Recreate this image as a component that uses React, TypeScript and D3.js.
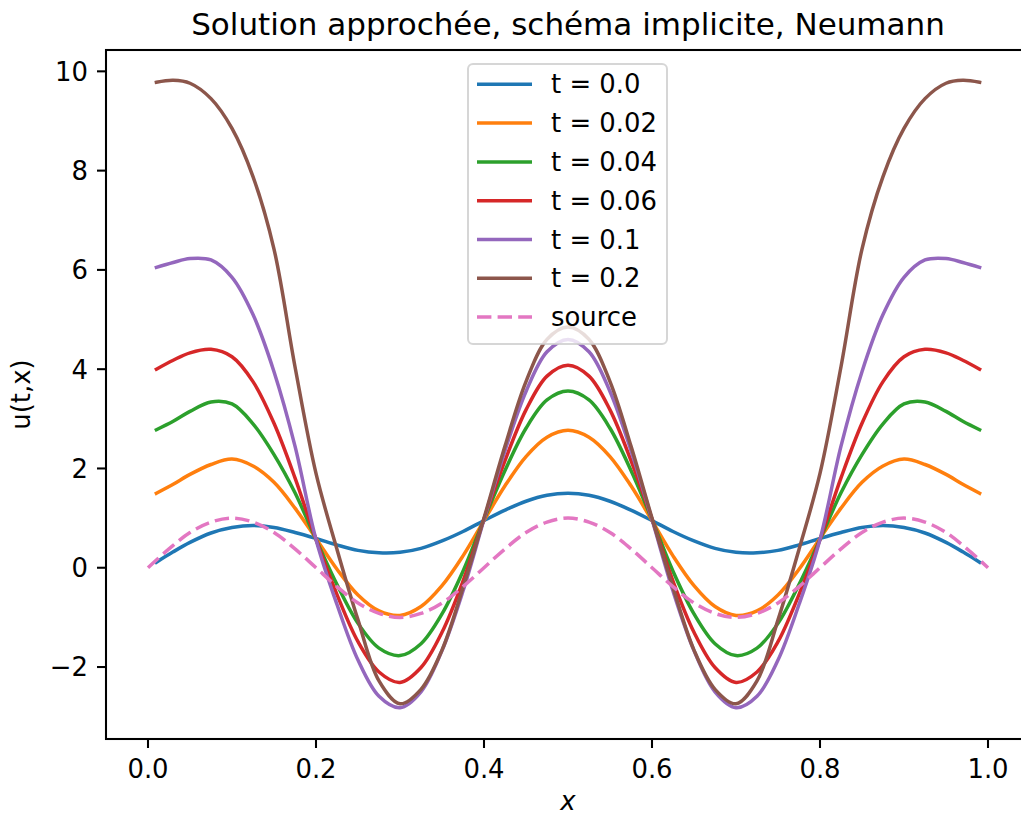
import React from "react";
import * as d3 from "d3";

// ---- data ----
const xs = [0.01,0.03,0.05,0.075,0.1,0.125,0.15,0.175,0.2,0.225,0.25,0.275,0.3,0.325,0.35,0.375,0.4,0.425,0.45,0.475,0.5,0.525,0.55,0.575,0.6,0.625,0.65,0.675,0.7,0.725,0.75,0.775,0.8,0.825,0.85,0.875,0.9,0.925,0.95,0.97,0.99];

const u_t000 = [0.11,0.32,0.51,0.70,0.81,0.85,0.81,0.71,0.59,0.46,0.35,0.30,0.31,0.39,0.54,0.73,0.95,1.16,1.34,1.46,1.50,1.46,1.34,1.16,0.95,0.73,0.54,0.39,0.31,0.30,0.35,0.46,0.59,0.71,0.81,0.85,0.81,0.70,0.51,0.32,0.11];
const u_t002 = [1.50,1.68,1.88,2.08,2.19,2.05,1.72,1.20,0.59,-0.03,-0.55,-0.87,-0.96,-0.78,-0.36,0.24,0.95,1.65,2.24,2.63,2.77,2.63,2.24,1.65,0.95,0.24,-0.36,-0.78,-0.96,-0.87,-0.55,-0.03,0.59,1.20,1.72,2.05,2.19,2.08,1.88,1.68,1.50];
const u_t004 = [2.78,2.95,3.15,3.34,3.30,2.90,2.28,1.51,0.57,-0.34,-1.12,-1.62,-1.77,-1.53,-0.93,-0.07,0.97,1.96,2.81,3.38,3.56,3.38,2.81,1.96,0.97,-0.07,-0.93,-1.53,-1.77,-1.62,-1.12,-0.34,0.57,1.51,2.28,2.90,3.30,3.34,3.15,2.95,2.78];
const u_t006 = [4.00,4.18,4.33,4.40,4.25,3.75,2.91,1.81,0.57,-0.54,-1.49,-2.10,-2.31,-2.01,-1.30,-0.27,0.98,2.16,3.18,3.86,4.08,3.86,3.18,2.16,0.98,-0.27,-1.30,-2.01,-2.31,-2.10,-1.49,-0.54,0.57,1.81,2.91,3.75,4.25,4.40,4.33,4.18,4.00];
const u_t010 = [6.05,6.15,6.23,6.20,5.85,5.10,3.95,2.45,0.57,-0.74,-1.86,-2.59,-2.82,-2.50,-1.67,-0.47,0.97,2.36,3.55,4.35,4.60,4.35,3.55,2.36,0.97,-0.47,-1.67,-2.50,-2.82,-2.59,-1.86,-0.74,0.57,2.45,3.95,5.10,5.85,6.20,6.23,6.15,6.05];
const u_t020 = [9.78,9.82,9.76,9.45,8.85,7.88,6.42,4.05,1.90,0.37,-1.05,-2.28,-2.74,-2.45,-1.66,-0.40,1.00,2.45,3.75,4.60,4.85,4.60,3.75,2.45,1.00,-0.40,-1.66,-2.45,-2.74,-2.28,-1.05,0.37,1.90,4.05,6.42,7.88,8.85,9.45,9.76,9.82,9.78];

const xsSource = [0,0.025,0.05,0.075,0.1,0.125,0.15,0.175,0.2,0.225,0.25,0.275,0.3,0.325,0.35,0.375,0.4,0.425,0.45,0.475,0.5,0.525,0.55,0.575,0.6,0.625,0.65,0.675,0.7,0.725,0.75,0.775,0.8,0.825,0.85,0.875,0.9,0.925,0.95,0.975,1.0];
const source = [0,0.38,0.71,0.92,1,0.92,0.71,0.38,0,-0.38,-0.71,-0.92,-1,-0.92,-0.71,-0.38,0,0.38,0.71,0.92,1,0.92,0.71,0.38,0,-0.38,-0.71,-0.92,-1,-0.92,-0.71,-0.38,0,0.38,0.71,0.92,1,0.92,0.71,0.38,0];

const seriesLabels = ["t = 0.0","t = 0.02","t = 0.04","t = 0.06","t = 0.1","t = 0.2"];
const seriesValues = [u_t000,u_t002,u_t004,u_t006,u_t010,u_t020];
const colors = ["#1f77b4","#ff7f0e","#2ca02c","#d62728","#9467bd","#8c564b"];
const sourceColor = "#e377c2";
const sourceLabel = "source";

const xTicks = [0,0.2,0.4,0.6,0.8,1.0];
const yTicks = [-2,0,2,4,6,8,10];

const titleText = "Solution approchée, schéma implicite, Neumann";
const xLabel = "x";
const yLabel = "u(t,x)";

export default function App() {
  const W = 1021, H = 815;
  const left = 106, top = 50, bottom = 739, right = 1030;
  const x = d3.scaleLinear().domain([-0.05, 1.05]).range([left, right]);
  const y = d3.scaleLinear().domain([-3.45, 10.43]).range([bottom, top]);
  const font = "DejaVu Sans, sans-serif";
  const fs = 25.9;
  const lw = 3.5;

  const line = d3.line<[number, number]>()
    .x(d => x(d[0]))
    .y(d => y(d[1]))
    .curve(d3.curveCatmullRom.alpha(0.5));

  const fmtX = d3.format(".1f");
  const fmtY = (v: number) => (v < 0 ? "\u2212" + Math.abs(v) : String(v));

  const legX = 468, legY = 64, legW = 199, legH = 280;
  const rowY0 = 84.3, rowDy = 38.8;
  const allLabels = [...seriesLabels, sourceLabel];

  return (
    <svg width={W} height={H} style={{ position: "absolute", left: 0, top: 0, background: "#fff" }} fontFamily={font}>
      <rect x={0} y={0} width={W} height={H} fill="#fff" />
      {/* lines */}
      {seriesValues.map((vals, i) => (
        <path key={i} d={line(xs.map((v, j) => [v, vals[j]] as [number, number])) || ""}
          fill="none" stroke={colors[i]} strokeWidth={lw} strokeLinecap="square" strokeLinejoin="round" />
      ))}
      <path d={line(xsSource.map((v, j) => [v, source[j]] as [number, number])) || ""}
        fill="none" stroke={sourceColor} strokeWidth={lw} strokeDasharray="14.4 6.2" />

      {/* spines */}
      <rect x={left} y={top} width={right - left} height={bottom - top} fill="none" stroke="#000" strokeWidth={2.07} />

      {/* x ticks */}
      {xTicks.map(t => (
        <g key={"x" + t}>
          <line x1={x(t)} x2={x(t)} y1={bottom} y2={bottom + 9} stroke="#000" strokeWidth={2.07} />
          <text x={x(t)} y={778} textAnchor="middle" fontSize={fs} fill="#000">{fmtX(t)}</text>
        </g>
      ))}
      {/* y ticks */}
      {yTicks.map(t => (
        <g key={"y" + t}>
          <line x1={left - 9} x2={left} y1={y(t)} y2={y(t)} stroke="#000" strokeWidth={2.07} />
          <text x={left - 18} y={y(t) + 9.4} textAnchor="end" fontSize={fs} fill="#000">{fmtY(t)}</text>
        </g>
      ))}

      {/* labels */}
      <text x={(left + right) / 2} y={34.5} textAnchor="middle" fontSize={31} fill="#000">{titleText}</text>
      <text x={(left + right) / 2} y={810} textAnchor="middle" fontSize={fs} fontStyle="italic" fill="#000">{xLabel}</text>
      <text transform={`translate(30,${(top + bottom) / 2}) rotate(-90)`} textAnchor="middle" fontSize={fs} fill="#000">{yLabel}</text>

      {/* legend */}
      <rect x={legX} y={legY} width={legW} height={legH} rx={5} ry={5} fill="#fff" fillOpacity={0.8} stroke="#cccccc" strokeOpacity={0.8} strokeWidth={2} />
      {allLabels.map((lab, i) => {
        const yy = rowY0 + i * rowDy;
        const isSource = i === allLabels.length - 1;
        return (
          <g key={lab}>
            <line x1={477} x2={532} y1={yy} y2={yy} stroke={isSource ? sourceColor : colors[i]} strokeWidth={lw}
              strokeDasharray={isSource ? "14.4 6.2" : undefined} />
            <text x={551} y={yy} dominantBaseline="central" fontSize={fs} fill="#000">{lab}</text>
          </g>
        );
      })}
    </svg>
  );
}
